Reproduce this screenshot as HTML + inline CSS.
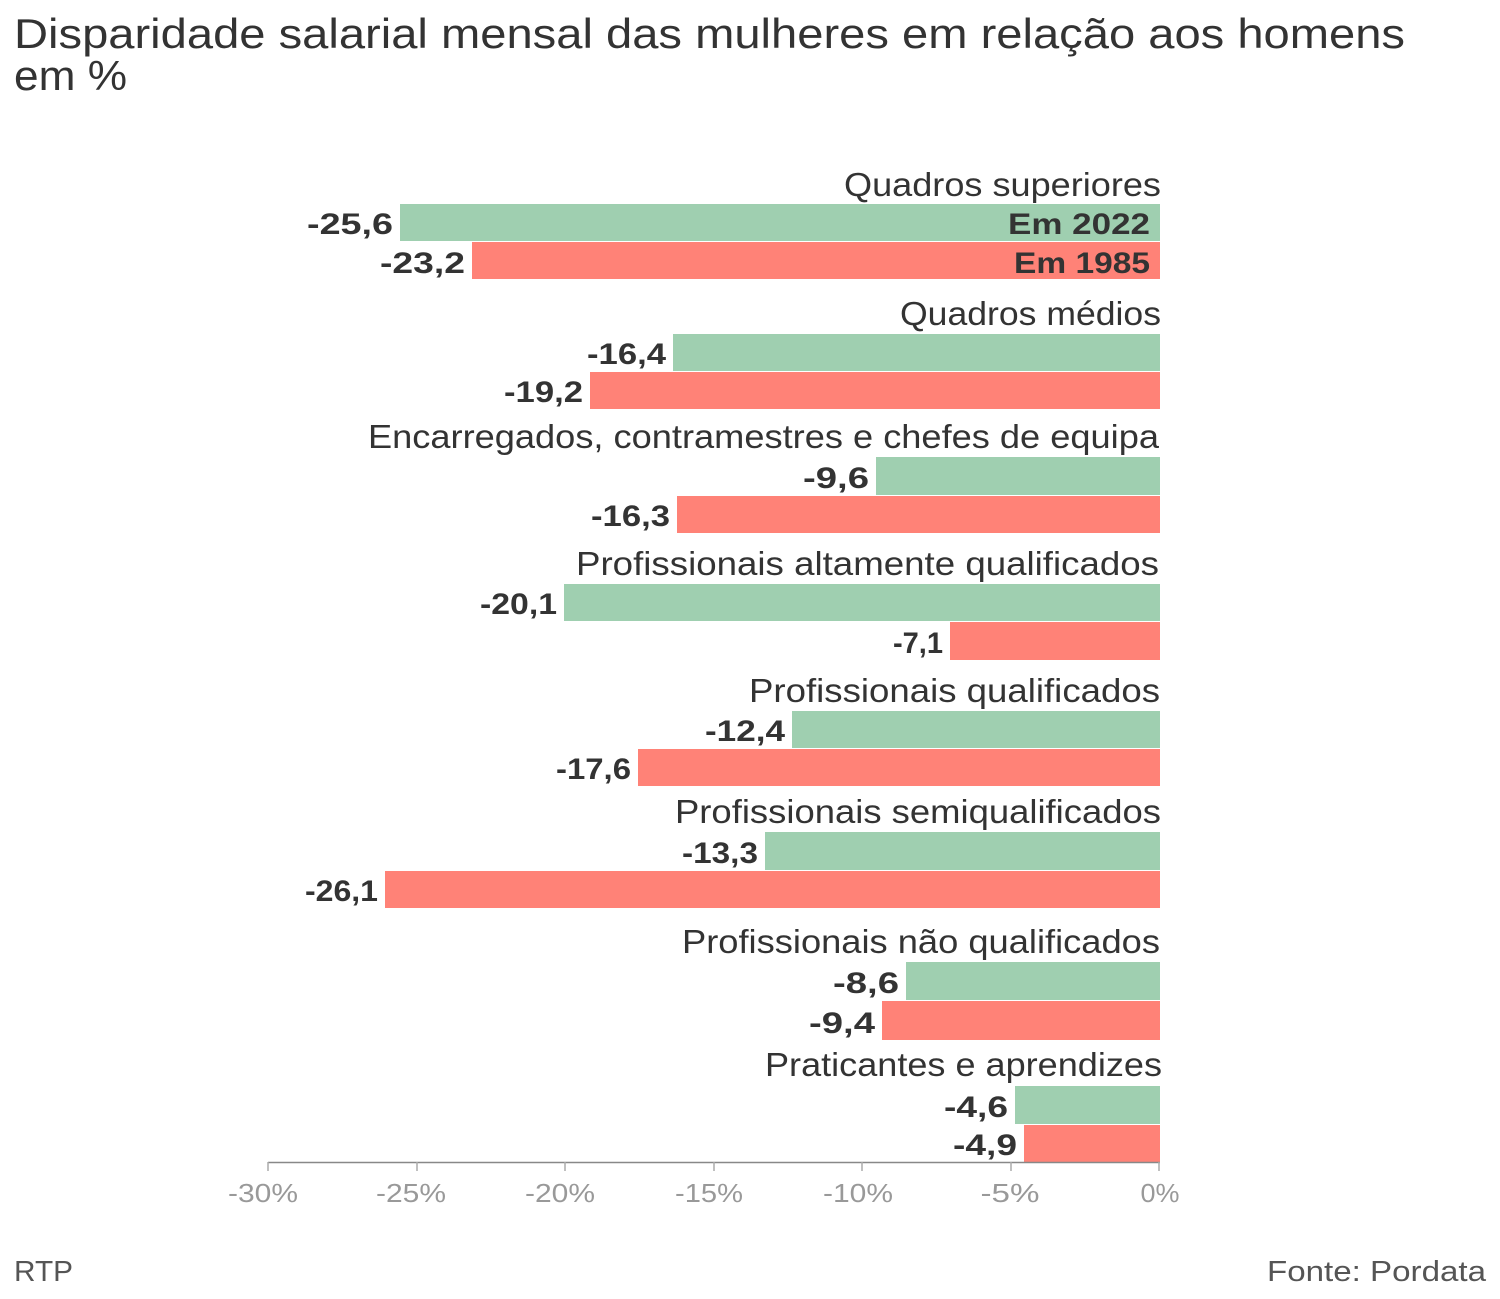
<!DOCTYPE html>
<html><head><meta charset="utf-8"><style>
body{margin:0;background:#fff;}
svg{display:block;font-family:"Liberation Sans","DejaVu Sans",sans-serif;}
.cat{font-size:33px;fill:#333;text-anchor:end;}
.val{font-size:30px;fill:#333;text-anchor:end;font-weight:bold}
.tk{font-size:26px;fill:#999;text-anchor:middle}
</style></head><body>
<svg width="1500" height="1299" viewBox="0 0 1500 1299">
<text x="14" y="48" font-size="42" fill="#333" textLength="1391" lengthAdjust="spacingAndGlyphs">Disparidade salarial mensal das mulheres em relação aos homens</text>
<text x="14" y="90" font-size="42" fill="#333" textLength="113" lengthAdjust="spacingAndGlyphs">em %</text>
<g fill="#9fcfb0">
<rect x="400" y="204" width="760" height="37"/>
<rect x="673" y="334" width="487" height="37"/>
<rect x="876" y="457" width="284" height="38"/>
<rect x="564" y="584" width="596" height="37"/>
<rect x="792" y="711" width="368" height="37"/>
<rect x="765" y="832" width="395" height="38"/>
<rect x="906" y="962" width="254" height="38"/>
<rect x="1015" y="1086" width="145" height="38"/>
</g>
<g fill="#ff8277">
<rect x="472" y="242" width="688" height="37"/>
<rect x="590" y="372" width="570" height="37"/>
<rect x="677" y="496" width="483" height="37"/>
<rect x="950" y="622" width="210" height="38"/>
<rect x="638" y="749" width="522" height="37"/>
<rect x="385" y="871" width="775" height="37"/>
<rect x="882" y="1001" width="278" height="39"/>
<rect x="1024" y="1125" width="136" height="37"/>
</g>
<g class="cat" lengthAdjust="spacingAndGlyphs">
<text x="1161" y="196" textLength="317" lengthAdjust="spacingAndGlyphs">Quadros superiores</text>
<text x="1161" y="325" textLength="261" lengthAdjust="spacingAndGlyphs">Quadros médios</text>
<text x="1159" y="448" textLength="791" lengthAdjust="spacingAndGlyphs">Encarregados, contramestres e chefes de equipa</text>
<text x="1159" y="575" textLength="583" lengthAdjust="spacingAndGlyphs">Profissionais altamente qualificados</text>
<text x="1160" y="702" textLength="411" lengthAdjust="spacingAndGlyphs">Profissionais qualificados</text>
<text x="1161" y="823" textLength="486" lengthAdjust="spacingAndGlyphs">Profissionais semiqualificados</text>
<text x="1160" y="953" textLength="478" lengthAdjust="spacingAndGlyphs">Profissionais não qualificados</text>
<text x="1162" y="1076" textLength="397" lengthAdjust="spacingAndGlyphs">Praticantes e aprendizes</text>
</g>
<g class="val">
<text x="1150" y="234" textLength="142" lengthAdjust="spacingAndGlyphs">Em 2022</text>
<text x="1150" y="273" textLength="136" lengthAdjust="spacingAndGlyphs">Em 1985</text>
<text x="393" y="234" textLength="86" lengthAdjust="spacingAndGlyphs">-25,6</text>
<text x="465" y="273" textLength="85" lengthAdjust="spacingAndGlyphs">-23,2</text>
<text x="666" y="364" textLength="79" lengthAdjust="spacingAndGlyphs">-16,4</text>
<text x="583" y="402" textLength="79" lengthAdjust="spacingAndGlyphs">-19,2</text>
<text x="869" y="488" textLength="66" lengthAdjust="spacingAndGlyphs">-9,6</text>
<text x="670" y="526" textLength="79" lengthAdjust="spacingAndGlyphs">-16,3</text>
<text x="557" y="614" textLength="77" lengthAdjust="spacingAndGlyphs">-20,1</text>
<text x="943" y="653" textLength="50" lengthAdjust="spacingAndGlyphs">-7,1</text>
<text x="785" y="741" textLength="80" lengthAdjust="spacingAndGlyphs">-12,4</text>
<text x="631" y="779" textLength="75" lengthAdjust="spacingAndGlyphs">-17,6</text>
<text x="758" y="863" textLength="76" lengthAdjust="spacingAndGlyphs">-13,3</text>
<text x="378" y="901" textLength="73" lengthAdjust="spacingAndGlyphs">-26,1</text>
<text x="899" y="993" textLength="66" lengthAdjust="spacingAndGlyphs">-8,6</text>
<text x="875" y="1033" textLength="66" lengthAdjust="spacingAndGlyphs">-9,4</text>
<text x="1008" y="1117" textLength="64" lengthAdjust="spacingAndGlyphs">-4,6</text>
<text x="1017" y="1155" textLength="64" lengthAdjust="spacingAndGlyphs">-4,9</text>
</g>
<line x1="268" y1="1162.5" x2="1160" y2="1162.5" stroke="#888" stroke-width="1.5"/>
<g stroke="#aaa" stroke-width="1.5">
<line x1="268" y1="1162" x2="268" y2="1171"/><line x1="417" y1="1162" x2="417" y2="1171"/><line x1="565" y1="1162" x2="565" y2="1171"/><line x1="714" y1="1162" x2="714" y2="1171"/><line x1="862" y1="1162" x2="862" y2="1171"/><line x1="1011" y1="1162" x2="1011" y2="1171"/><line x1="1159" y1="1162" x2="1159" y2="1171"/>
</g>
<g class="tk">
<text x="263" y="1202" textLength="70" lengthAdjust="spacingAndGlyphs">-30%</text><text x="411" y="1202" textLength="70" lengthAdjust="spacingAndGlyphs">-25%</text><text x="560" y="1202" textLength="70" lengthAdjust="spacingAndGlyphs">-20%</text><text x="709" y="1202" textLength="68" lengthAdjust="spacingAndGlyphs">-15%</text><text x="858" y="1202" textLength="70" lengthAdjust="spacingAndGlyphs">-10%</text><text x="1010" y="1202" textLength="59" lengthAdjust="spacingAndGlyphs">-5%</text><text x="1160" y="1202" textLength="39" lengthAdjust="spacingAndGlyphs">0%</text>
</g>
<text x="14" y="1281" font-size="29" fill="#555" textLength="59" lengthAdjust="spacingAndGlyphs">RTP</text>
<text x="1486" y="1281" font-size="29" fill="#555" text-anchor="end" textLength="219" lengthAdjust="spacingAndGlyphs">Fonte: Pordata</text>
</svg>
</body></html>
